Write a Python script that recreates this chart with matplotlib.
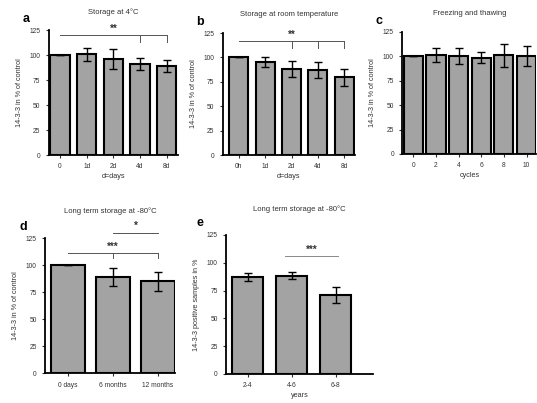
import numpy as np
import matplotlib
matplotlib.use("Agg")
import matplotlib.pyplot as plt

plt.rcParams['font.family'] = ['Liberation Sans', 'DejaVu Sans']

# panel data
a_labels = ['0', '1d', '2d', '4d', '8d']
a_vals = [100, 101, 96, 91, 89]
a_err = [0, 6.5, 10, 6, 6]

b_labels = ['0h', '1d', '2d', '4d', '8d']
b_vals = [100, 95, 88, 87, 79.5]
b_err = [0, 5, 8.5, 8, 8.5]

c_labels = ['0', '2', '4', '6', '8', '10']
c_vals = [100, 101, 100, 98.5, 101, 100]
c_err = [0, 7, 8, 5.5, 12, 10]

d_labels = ['0 days', '6 months', '12 months']
d_vals = [100, 89, 85]
d_err = [0, 8.5, 8.5]

e_labels = ['2-4', '4-6', '6-8']
e_vals = [87, 88.5, 71]
e_err = [3.5, 3.5, 7]

fig = plt.figure(figsize=(5.37, 4.03), dpi=100)

bar_col = '#a3a3a3'
fs_tick = 4.8
fs_lab = 5.2


def panel(rect, labels, vals, err, width, xlim, title, xlabel, ylabel, letter, pad=12):
    ax = fig.add_axes(rect)
    x = np.arange(len(vals))
    ax.bar(x, vals, width=width, color=bar_col, edgecolor='black', linewidth=1.5, zorder=2)
    ax.errorbar(x, vals, yerr=err, fmt='none', ecolor='black', elinewidth=1.0,
                capsize=3, capthick=1.0, zorder=3)
    ax.set_ylim(0, 125)
    ax.set_yticks(range(0, 126, 25))
    ax.set_xlim(*xlim)
    ax.set_xticks(x)
    ax.set_xticklabels(labels)
    ax.tick_params(labelsize=fs_tick, length=2, width=0.8, pad=4, colors='#333333')
    for s in ['top', 'right']:
        ax.spines[s].set_visible(False)
    for s in ['left', 'bottom']:
        ax.spines[s].set_linewidth(1.3)
    ax.set_ylabel(ylabel, fontsize=fs_lab, color='#333333', labelpad=5)
    if xlabel:
        ax.set_xlabel(xlabel, fontsize=fs_lab, color='#333333', labelpad=2)
    ax.set_title(title, fontsize=5.5, color='#333333', pad=pad)
    ax.text(-0.2, 1.04, letter, transform=ax.transAxes, fontsize=9, fontweight='bold',
            ha='left', va='bottom')
    return ax


def bracket(ax, x0, x1, y, ticks, tick_low, label, color='#555555'):
    ax.plot([x0, x1], [y, y], color=color, lw=0.7, clip_on=False, zorder=4)
    for t in ticks:
        ax.plot([t, t], [y, tick_low], color=color, lw=0.7, clip_on=False, zorder=4)
    ax.text((x0 + x1) / 2, y + 1.5, label, ha='center', va='bottom', fontsize=7,
            fontweight='bold', color='#333333', clip_on=False)


ax_a = panel([0.091, 0.615, 0.240, 0.310], a_labels, a_vals, a_err, 0.72, (-0.42, 4.42),
             'Storage at 4\u00b0C', 'd=days', '14-3-3 in % of control', 'a')
bracket(ax_a, 0, 4, 120, [3, 4], 113, '**')

ax_b = panel([0.415, 0.615, 0.246, 0.303], b_labels, b_vals, b_err, 0.72, (-0.6, 4.4),
             'Storage at room temperature', 'd=days', '14-3-3 in % of control', 'b')
bracket(ax_b, 0, 4, 117, [2, 3, 4], 110, '**')

ax_c = panel([0.749, 0.618, 0.250, 0.303], c_labels, c_vals, c_err, 0.85, (-0.49, 5.44),
             'Freezing and thawing', 'cycles', '14-3-3 in % of control', 'c')

ax_d = panel([0.084, 0.074, 0.242, 0.335], d_labels, d_vals, d_err, 0.75, (-0.51, 2.38),
             'Long term storage at -80\u00b0C', None, '14-3-3 in % of control', 'd', pad=18)
bracket(ax_d, 0, 2, 111, [1, 2], 107, '***')
bracket(ax_d, 1, 2, 130, [], 130, '*')

ax_e = panel([0.421, 0.072, 0.274, 0.345], e_labels, e_vals, e_err, 0.7, (-0.49, 2.85),
             'Long term storage at -80\u00b0C', 'years', '14-3-3 positive samples in %', 'e',
             pad=17)
bracket(ax_e, 0.85, 2.05, 106, [], 106, '***', color='#888888')

fig.savefig('out.png', dpi=100)
